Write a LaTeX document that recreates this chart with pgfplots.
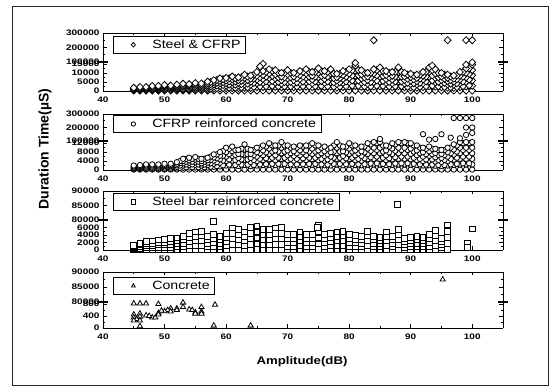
\documentclass[border=0pt]{standalone}
\usepackage{pgfplots}
\usepackage{pgfplotstable}
\pgfplotsset{compat=1.18}
\usepackage{fontspec}
\setmainfont{Liberation Sans}
\newfontfamily\tkfont[FakeStretch=1.25]{Liberation Sans}
\newfontfamily\ttlfont[FakeStretch=1.2]{Liberation Sans}
\newfontfamily\lgfont[FakeStretch=1.18]{Liberation Sans}
\newcommand\tkf{\tkfont\bfseries\fontsize{8}{8}\selectfont}
\newcommand\lgdf{\lgfont\fontsize{12}{13}\selectfont}

% Panel 1 (Steel & CFRP), lower range
\pgfplotstableread{
x a b c d e f
45 1800 1450 1100 700 350 200
46 2200 1750 1300 900 450 200
47 2200 1750 1300 900 450 200
48 2800 2250 1700 1100 550 200
49 2800 2250 1700 1100 550 200
50 3300 2650 2000 1300 650 200
51 3000 2400 1800 1200 600 200
52 3500 2800 2100 1400 700 200
53 4000 3200 2400 1600 800 200
54 3800 3050 2300 1500 750 200
55 4400 3500 2650 1750 900 200
56 4200 3350 2500 1700 850 200
57 5200 4150 3100 2100 1050 200
58 6000 4800 3600 2400 1200 200
59 7000 5600 4200 2800 1400 200
60 7200 5750 4300 2900 1450 200
61 8000 6400 4800 3200 1600 200
62 7500 6000 4500 3000 1500 200
63 9000 7200 5400 3600 1800 200
64 8500 6800 5100 3400 1700 200
65 10500 8400 6300 4200 2100 200
66 11000 8800 6600 4400 2200 200
67 12000 9600 7200 4800 2400 200
68 11500 9200 6900 4600 2300 200
69 10000 8000 6000 4000 2000 200
70 11500 9200 6900 4600 2300 200
71 10000 8000 6000 4000 2000 200
72 11000 8800 6600 4400 2200 200
73 12000 9600 7200 4800 2400 200
74 10500 8400 6300 4200 2100 200
75 12500 10000 7500 5000 2500 200
76 11000 8800 6600 4400 2200 200
77 12000 9600 7200 4800 2400 200
78 9500 7600 5700 3800 1900 200
79 11000 8800 6600 4400 2200 200
80 12000 9600 7200 4800 2400 200
81 14000 11200 8400 5600 2800 200
82 11500 9200 6900 4600 2300 200
83 10000 8000 6000 4000 2000 200
84 12000 9600 7200 4800 2400 200
85 13000 10400 7800 5200 2600 200
86 11000 8800 6600 4400 2200 200
87 10500 8400 6300 4200 2100 200
88 13000 10400 7800 5200 2600 200
89 10000 8000 6000 4000 2000 200
90 9500 7600 5700 3800 1900 200
91 9000 7200 5400 3600 1800 200
92 10500 8400 6300 4200 2100 200
93 13000 10400 7800 5200 2600 200
94 12000 9600 7200 4800 2400 200
95 10000 8000 6000 4000 2000 200
96 9000 7200 5400 3600 1800 200
97 8500 6800 5100 3400 1700 200
98 10500 8400 6300 4200 2100 200
99 12500 10000 7500 5000 2500 200
100 14500 11600 8700 5800 2900 200
}\tA

\pgfplotstableread{
x a b c d
57.5 5000 3750 2500 1250
58.5 6000 4500 3000 1500
59.5 6500 4900 3250 1600
60.5 7000 5250 3500 1750
61.5 7000 5250 3500 1750
62.5 7500 5600 3750 1900
63.5 8000 6000 4000 2000
64.5 9000 6750 4500 2250
65.5 10000 7500 5000 2500
66.5 10500 7900 5250 2600
67.5 11000 8250 5500 2750
68.5 10000 7500 5000 2500
69.5 10000 7500 5000 2500
70.5 10000 7500 5000 2500
71.5 9500 7100 4750 2400
72.5 10500 7900 5250 2600
73.5 10500 7900 5250 2600
74.5 10500 7900 5250 2600
75.5 11000 8250 5500 2750
76.5 10500 7900 5250 2600
77.5 9500 7100 4750 2400
78.5 9500 7100 4750 2400
79.5 10500 7900 5250 2600
80.5 11500 8600 5750 2900
81.5 11500 8600 5750 2900
82.5 10000 7500 5000 2500
83.5 10000 7500 5000 2500
84.5 11500 8600 5750 2900
85.5 11000 8250 5500 2750
86.5 10000 7500 5000 2500
87.5 10500 7900 5250 2600
88.5 10500 7900 5250 2600
89.5 9000 6750 4500 2250
90.5 8500 6400 4250 2100
91.5 9000 6750 4500 2250
92.5 10500 7900 5250 2600
93.5 11500 8600 5750 2900
94.5 10000 7500 5000 2500
95.5 9000 6750 4500 2250
96.5 8000 6000 4000 2000
97.5 8500 6400 4250 2100
98.5 10500 7900 5250 2600
99.5 12500 9400 6250 3100
}\tAh

% Panel 2 (CFRP reinforced concrete), lower range
\pgfplotstableread{
x a b c d e f
45 2000 1600 1200 800 400 200
46 2200 1750 1300 900 450 200
47 2500 2000 1500 1000 500 200
48 2500 2000 1500 1000 500 200
49 2500 2000 1500 1000 500 200
50 2800 2250 1700 1100 550 200
51 2800 2250 1700 1100 550 200
52 3500 2800 2100 1400 700 200
53 5000 4000 3000 2000 1000 200
54 5500 4400 3300 2200 1100 200
55 5800 4650 3500 2300 1150 200
56 5000 4000 3000 2000 1000 200
57 5500 4400 3300 2200 1100 200
58 7000 5600 4200 2800 1400 200
59 8000 6400 4800 3200 1600 200
60 10000 8000 6000 4000 2000 200
61 10500 8400 6300 4200 2100 200
62 9000 7200 5400 3600 1800 200
63 11500 9200 6900 4600 2300 200
64 9000 7200 5400 3600 1800 200
65 10000 8000 6000 4000 2000 200
66 11000 8800 6600 4400 2200 200
67 12000 9600 7200 4800 2400 200
68 11000 8800 6600 4400 2200 200
69 12500 10000 7500 5000 2500 200
70 11000 8800 6600 4400 2200 200
71 10500 8400 6300 4200 2100 200
72 11000 8800 6600 4400 2200 200
73 11000 8800 6600 4400 2200 200
74 12000 9600 7200 4800 2400 200
75 11000 8800 6600 4400 2200 200
76 10500 8400 6300 4200 2100 200
77 10000 8000 6000 4000 2000 200
78 12500 10000 7500 5000 2500 200
79 10500 8400 6300 4200 2100 200
80 12000 9600 7200 4800 2400 200
81 11000 8800 6600 4400 2200 200
82 10500 8400 6300 4200 2100 200
83 12000 9600 7200 4800 2400 200
84 12500 10000 7500 5000 2500 200
85 12500 10000 7500 5000 2500 200
86 11000 8800 6600 4400 2200 200
87 12000 9600 7200 4800 2400 200
88 12500 10000 7500 5000 2500 200
89 12500 10000 7500 5000 2500 200
90 12000 9600 7200 4800 2400 200
91 11000 8800 6600 4400 2200 200
92 10000 8000 6000 4000 2000 200
93 10500 8400 6300 4200 2100 200
94 9500 7600 5700 3800 1900 200
95 9000 7200 5400 3600 1800 200
96 10000 8000 6000 4000 2000 200
97 11500 9200 6900 4600 2300 200
98 12500 10000 7500 5000 2500 200
99 12500 10000 7500 5000 2500 200
100 12500 10000 7500 5000 2500 200
}\tB

\pgfplotstableread{
x a b c d
52.5 4000 3000 2000 1000
53.5 5000 3750 2500 1250
54.5 5000 3750 2500 1250
55.5 5000 3750 2500 1250
56.5 5000 3750 2500 1250
57.5 6000 4500 3000 1500
58.5 7000 5250 3500 1750
59.5 8500 6400 4250 2100
60.5 9500 7100 4750 2400
61.5 9000 6750 4500 2250
62.5 9500 7100 4750 2400
63.5 9500 7100 4750 2400
64.5 9000 6750 4500 2250
65.5 10000 7500 5000 2500
66.5 10500 7900 5250 2600
67.5 11000 8250 5500 2750
68.5 11000 8250 5500 2750
69.5 11000 8250 5500 2750
70.5 10000 7500 5000 2500
71.5 10000 7500 5000 2500
72.5 10500 7900 5250 2600
73.5 11000 8250 5500 2750
74.5 11000 8250 5500 2750
75.5 10000 7500 5000 2500
76.5 9500 7100 4750 2400
77.5 11000 8250 5500 2750
78.5 11000 8250 5500 2750
79.5 10500 7900 5250 2600
80.5 11000 8250 5500 2750
81.5 10000 7500 5000 2500
82.5 10500 7900 5250 2600
83.5 11500 8600 5750 2900
84.5 12000 9000 6000 3000
85.5 11000 8250 5500 2750
86.5 10500 7900 5250 2600
87.5 11500 8600 5750 2900
88.5 12000 9000 6000 3000
89.5 12000 9000 6000 3000
90.5 11000 8250 5500 2750
91.5 10000 7500 5000 2500
92.5 9500 7100 4750 2400
93.5 9500 7100 4750 2400
94.5 9000 6750 4500 2250
95.5 9000 6750 4500 2250
96.5 10000 7500 5000 2500
97.5 11000 8250 5500 2750
98.5 12000 9000 6000 3000
99.5 12000 9000 6000 3000
}\tBh

% Panel 3 (Steel bar reinforced concrete), lower range
\pgfplotstableread{
x a b c d e
45 1300 1000 650 300 100
46 1800 1350 900 450 100
47 2300 1700 1150 600 100
48 2400 1800 1200 600 100
49 2700 2000 1350 700 100
50 2800 2100 1400 700 100
51 3000 2250 1500 750 100
52 3200 2400 1600 800 100
53 3600 2700 1800 900 100
54 4500 3400 2250 1100 100
55 4800 3600 2400 1200 100
56 5000 3750 2500 1250 100
57 3600 2700 1800 900 100
58 4200 3150 2100 1050 100
59 3600 2700 1800 900 100
60 4500 3400 2250 1100 100
61 5900 4400 2950 1500 100
62 5500 4100 2750 1400 100
63 4800 3600 2400 1200 100
64 6000 4500 3000 1500 100
65 6400 4800 3200 1600 100
66 5500 4100 2750 1400 100
67 5400 4050 2700 1350 100
68 5900 4400 2950 1500 100
69 6000 4500 3000 1500 100
70 4200 3150 2100 1050 100
71 4200 3150 2100 1050 100
72 4800 3600 2400 1200 100
73 4200 3150 2100 1050 100
74 4200 3150 2100 1050 100
75 6500 4900 3250 1600 100
76 4200 3150 2100 1050 100
77 4500 3400 2250 1100 100
78 4800 3600 2400 1200 100
79 5000 3750 2500 1250 100
80 4200 3150 2100 1050 100
81 3800 2850 1900 950 100
82 3600 2700 1800 900 100
83 5000 3750 2500 1250 100
84 3600 2700 1800 900 100
85 3400 2550 1700 850 100
86 4800 3600 2400 1200 100
87 3600 2700 1800 900 100
88 5500 4100 2750 1400 100
89 3000 2250 1500 750 100
90 3400 2550 1700 850 100
91 3600 2700 1800 900 100
92 3400 2550 1700 850 100
93 4200 3150 2100 1050 100
94 5200 3900 2600 1300 100
95 3000 2250 1500 750 100
96 6700 5000 3350 1700 100
}\tC

\tikzset{mo/.style={fill=white, draw=black, line width=0.8pt}}
\pgfplotsset{
  base/.style={scale only axis, width=400pt, xmin=40, xmax=105,
    xtick={40,50,...,100}, minor x tick num=1, minor y tick num=1,
    clip=false, axis on top, anchor=south west,
    ticklabel style={font=\tkf}, xticklabel style={yshift=-2pt},
    /pgf/number format/1000 sep={}, /pgf/number format/fixed,
    /pgf/number format/assume math mode=true, scaled y ticks=false,
    axis line style={line width=0.75pt},
    every tick/.style={black, line width=0.55pt},
    major tick length=3.5pt, minor tick length=2pt, tick align=inside,
    legend style={draw=black, line width=0.7pt, font=\lgdf, inner xsep=3pt,
      inner ysep=1.5pt, anchor=north west, legend cell align=left},
    legend image code/.code={\draw[##1, mark size=2.2pt] plot coordinates {(17pt,0pt)};
      \path[draw=none, fill=none] (0pt,0pt) -- (34pt,0pt);},
  },
  low/.style={base, axis x line*=bottom, axis y line*=box, ymin=0},
  up/.style={base, axis x line*=top, axis y line*=box, xticklabels={}},
  dia/.style={only marks, mark=diamond*, mark size=3.5pt, mark options={mo, xscale=1.3}},
  cir/.style={only marks, mark=*, mark size=2.7pt, mark options={mo}},
  sq/.style={only marks, mark=square*, mark size=2.9pt, mark options={mo}},
  tri/.style={only marks, mark=triangle*, mark size=3pt, mark options={mo}},
}

\begin{document}
\begin{tikzpicture}
\useasboundingbox (0,0) rectangle (554pt,387pt);
\draw[line width=0.8pt, black!85] (12pt,1.5pt) rectangle (548pt,381pt);

% ---------- Panel 1: Steel & CFRP ----------
\begin{axis}[low, at={(103pt,296pt)}, height=29pt, ymax=16000,
  ytick={0,5000,10000,15000}]
\addplot[dia] table[x=x,y=f]{\tA};
\addplot[dia] table[x=x,y=e]{\tA};
\addplot[dia] table[x=x,y=d]{\tAh};
\addplot[dia] table[x=x,y=d]{\tA};
\addplot[dia] table[x=x,y=c]{\tAh};
\addplot[dia] table[x=x,y=c]{\tA};
\addplot[dia] table[x=x,y=b]{\tAh};
\addplot[dia] table[x=x,y=b]{\tA};
\addplot[dia] table[x=x,y=a]{\tAh};
\addplot[dia] table[x=x,y=a]{\tA};
\addplot[dia] coordinates {(66,15000)(81,15500)(99,14500)(100,15800)(65.5,13500)(93.5,14000)};
\end{axis}
\begin{axis}[up, at={(103pt,325pt)}, height=29pt, ymin=100000, ymax=300000,
  ytick={100000,200000,300000}, legend style={at={(0.025,0.9)}}]
\addplot[dia] coordinates {(84,250000)(96,250000)(99,250000)(100,250000)};
\addlegendentry{Steel \& CFRP}
\end{axis}

% ---------- Panel 2: CFRP reinforced concrete ----------
\begin{axis}[low, at={(103pt,217pt)}, height=29pt, ymax=13000,
  ytick={0,4000,8000,12000}]
\addplot[cir] table[x=x,y=f]{\tB};
\addplot[cir] table[x=x,y=e]{\tB};
\addplot[cir] table[x=x,y=d]{\tBh};
\addplot[cir] table[x=x,y=d]{\tB};
\addplot[cir] table[x=x,y=c]{\tBh};
\addplot[cir] table[x=x,y=c]{\tB};
\addplot[cir] table[x=x,y=b]{\tBh};
\addplot[cir] table[x=x,y=b]{\tB};
\addplot[cir] table[x=x,y=a]{\tBh};
\addplot[cir] table[x=x,y=a]{\tB};
\end{axis}
\begin{axis}[up, at={(103pt,246pt)}, height=27pt, ymin=100000, ymax=300000,
  ytick={100000,200000,300000}, legend style={at={(0.025,0.96)}}]
\addplot[cir] coordinates {(85,115000)(92,150000)(93,110000)(94,115000)(95,150000)
  (97,270000)(98,270000)(99,270000)(100,270000)(99,200000)(100,200000)
  (98,120000)(99,145000)(100,160000)(96.5,125000)};
\addlegendentry{CFRP reinforced concrete}
\end{axis}

% ---------- Panel 3: Steel bar reinforced concrete ----------
\begin{axis}[low, at={(103pt,137pt)}, height=30pt, ymax=8000,
  ytick={0,2000,4000,6000}]
\addplot[sq] table[x=x,y=e]{\tC};
\addplot[sq] table[x=x,y=d]{\tC};
\addplot[sq] table[x=x,y=c]{\tC};
\addplot[sq] table[x=x,y=b]{\tC};
\addplot[sq] table[x=x,y=a]{\tC};
\addplot[sq] coordinates {(57.9,7700)(99.2,1900)(99.2,700)(100,5600)(74.8,6100)};
\end{axis}
\begin{axis}[up, at={(103pt,167pt)}, height=29pt, ymin=80000, ymax=90000,
  ytick={80000,85000,90000}, legend style={at={(0.025,0.93)}}]
\addplot[sq] coordinates {(87.8,85500)};
\addlegendentry{Steel bar reinforced concrete}
\end{axis}

% ---------- Panel 4: Concrete ----------
\begin{axis}[low, at={(103pt,59pt)}, height=26pt, ymax=870,
  ytick={0,400,800}]
\addplot[tri] coordinates {(45,820)(46,820)(47,820)(49,800)(53,850)(58.2,780)
  (56,700)(54,620)(55,520)(56,550)(54.5,600)(52,650)(51,650)(50.5,600)(50,560)
  (49.5,580)(49,500)(48,350)(47,420)(46,480)(45,450)(45,350)(45.5,300)(46,380)
  (46,250)(45,250)(47.5,400)(48.5,350)(49,450)(52,600)(51,550)(53,700)(56,480)
  (55,480)(58,80)(64,80)(46,60)};
\end{axis}
\begin{axis}[up, at={(103pt,85pt)}, height=30pt, ymin=80000, ymax=90000,
  ytick={80000,85000,90000}, legend style={at={(0.025,0.83)}}]
\addplot[tri] coordinates {(95.2,87500)};
\addlegendentry{Concrete}
\end{axis}

% axis breaks
\foreach \yb in {325,246,167,85}{
  \draw[line width=1.4pt] (98pt,\yb pt) -- (108pt,\yb pt);
  \draw[line width=1.4pt] (498pt,\yb pt) -- (508pt,\yb pt);
}

\node[rotate=90, font=\bfseries\fontsize{14}{14}\selectfont] at (45pt,238pt) {Duration Time(µS)};
\node[font=\ttlfont\bfseries\fontsize{11}{11}\selectfont] at (302pt,25pt) {Amplitude(dB)};
\end{tikzpicture}
\end{document}
